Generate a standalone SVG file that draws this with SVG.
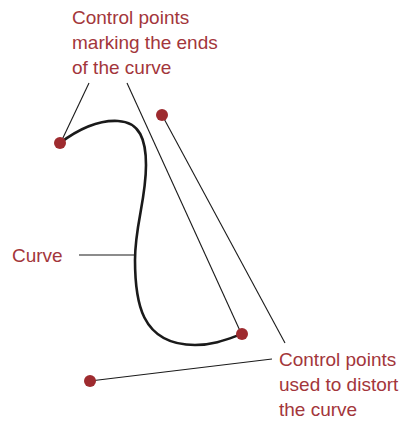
<svg xmlns="http://www.w3.org/2000/svg" width="403" height="422" viewBox="0 0 403 422">
<style>
.lbl{font-family:"Liberation Sans",Arial,sans-serif;font-size:19px;fill:#a3363b}
.ln{stroke:#1a1a1a;stroke-width:1.1;fill:none}
.curve{stroke:#1a1a1a;stroke-width:2.6;fill:none;stroke-linecap:round}
.pt{fill:#9e2b2f}
</style>
<rect width="403" height="422" fill="#fff"/>
<g id="connectors">
<line class="ln" x1="89" y1="83" x2="61" y2="142"/>
<line class="ln" x1="127" y1="83" x2="241" y2="333"/>
<line class="ln" x1="162" y1="115" x2="285" y2="343"/>
<line class="ln" x1="90" y1="381" x2="272" y2="359"/>
<line class="ln" x1="79" y1="255" x2="134" y2="255"/>
</g>
<g id="curve">
<path class="curve" d="M60,143 C80,128 100,120 118,121 C140,122 146,140 146,165 C146,200 135,225 135,260 C135,300 140,345 195,345 C215,345 230,338 242,334"/>
</g>
<g id="pt-start"><circle class="pt" cx="60" cy="143" r="6"/></g>
<g id="pt-end"><circle class="pt" cx="242" cy="334" r="6"/></g>
<g id="pt-ctrl1"><circle class="pt" cx="162" cy="115" r="6"/></g>
<g id="pt-ctrl2"><circle class="pt" cx="90" cy="381" r="6"/></g>
<g id="label-ends">
<text class="lbl" x="72" y="24">Control points</text>
<text class="lbl" x="72" y="49">marking the ends</text>
<text class="lbl" x="72" y="74">of the curve</text>
</g>
<g id="label-curve">
<text class="lbl" x="12" y="262">Curve</text>
</g>
<g id="label-distort">
<text class="lbl" x="279" y="366">Control points</text>
<text class="lbl" x="279" y="391">used to distort</text>
<text class="lbl" x="279" y="416">the curve</text>
</g>
</svg>
